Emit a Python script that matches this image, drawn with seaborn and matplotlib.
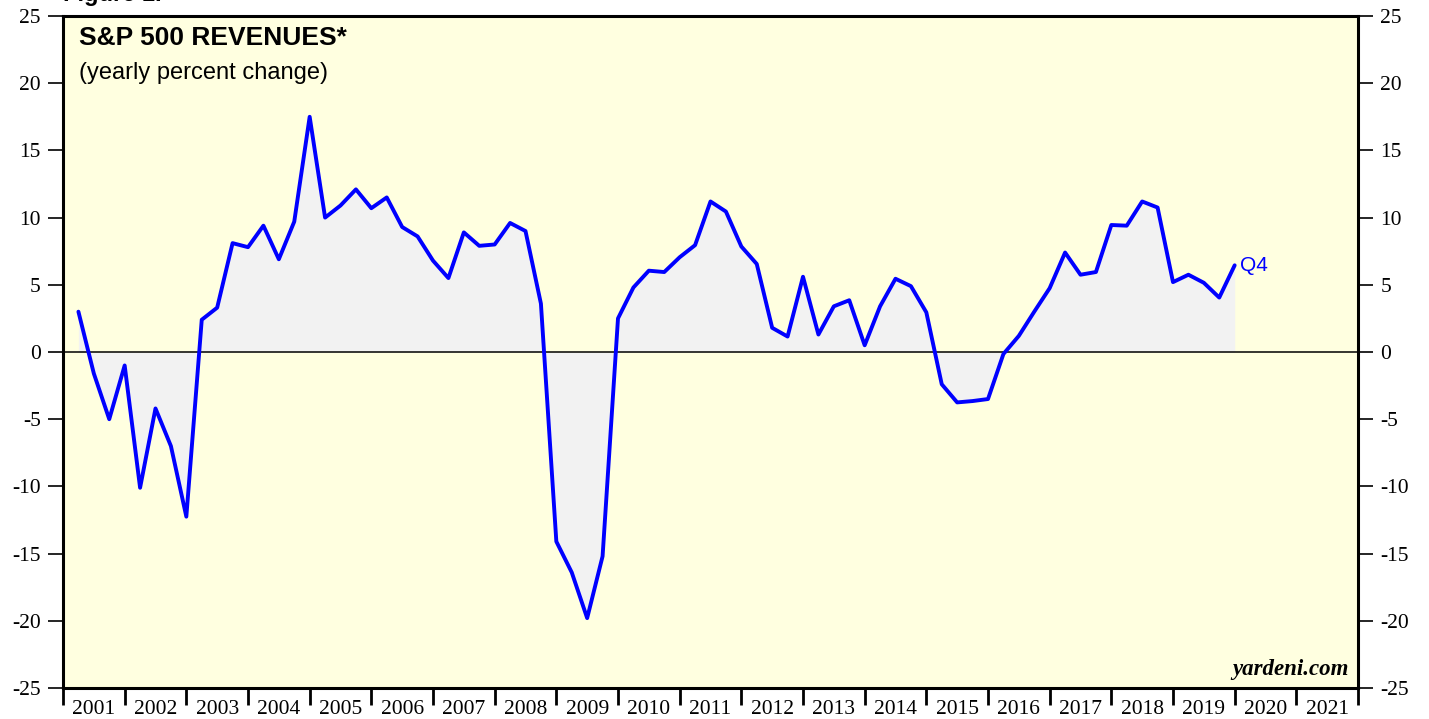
import numpy as np
import pandas as pd
import seaborn as sns
import matplotlib.pyplot as plt

# ==========================================
# DATOS: S&P 500 revenues, variación anual (%) trimestral 2001Q1-2019Q4
# ==========================================
quarters = pd.period_range('2001Q1', '2019Q4', freq='Q')
revenues_yoy = [3.0, -1.6, -5.0, -1.0, -10.1, -4.2, -7.0, -12.25,
                2.4, 3.3, 8.1, 7.8, 9.4, 6.9, 9.7, 17.5,
                10.0, 10.9, 12.1, 10.7, 11.5, 9.3, 8.6, 6.8,
                5.5, 8.9, 7.9, 8.0, 9.6, 9.0, 3.6, -14.1,
                -16.4, -19.8, -15.2, 2.5, 4.8, 6.05, 5.95, 7.05,
                7.95, 11.2, 10.45, 7.85, 6.55, 1.8, 1.15, 5.6,
                1.3, 3.4, 3.85, 0.5, 3.4, 5.45, 4.9, 2.95,
                -2.4, -3.75, -3.65, -3.5, -0.15, 1.2, 3.0, 4.75,
                7.4, 5.75, 5.95, 9.45, 9.4, 11.2, 10.75, 5.2,
                5.75, 5.15, 4.05, 6.45]
years = list(range(2001, 2022))
y_ticks = list(range(-25, 30, 5))

# cada trimestre se dibuja al final del trimestre
x_pos = np.array([q.year + q.quarter / 4 for q in quarters])
df = pd.DataFrame({'fecha': x_pos, 'valor': revenues_yoy})

# ==========================================
# ESTILO
# ==========================================
sns.set_theme(style="ticks")
plt.rcParams['font.family'] = ['Liberation Serif', 'DejaVu Serif']
plt.rcParams['text.color'] = 'black'
plt.rcParams['xtick.color'] = 'black'
plt.rcParams['ytick.color'] = 'black'

fig = plt.figure(figsize=(14.29, 7.19), dpi=100)
W, H = 1429, 719
ax = fig.add_axes([63 / W, (H - 688) / H, (1358 - 63) / W, (688 - 16) / H])
ax.set_facecolor('#FFFFE0')

# área sombreada + línea
ax.fill_between(df['fecha'], 0, df['valor'], color='#F2F2F2', lw=0, zorder=1)
ax.axhline(0, color='black', lw=1.1, zorder=2)
sns.lineplot(data=df, x='fecha', y='valor', ax=ax, color='#0000FF', lw=2.8, zorder=3)

# etiqueta del último dato
ax.text(df['fecha'].iloc[-1] + 0.09, df['valor'].iloc[-1], 'Q4', color='#0000FF',
        fontsize=15, family='Liberation Sans', va='center', ha='left')

# ==========================================
# EJES
# ==========================================
ax.set_xlim(years[0], years[-1] + 1)
ax.set_ylim(-25, 25)
ax.set_yticks(y_ticks)
ax.set_yticklabels([str(v) for v in y_ticks])
ax.tick_params(axis='y', which='both', left=True, right=True, labelleft=True, labelright=True,
               direction='out', length=11, width=1.2, labelsize=15.5, pad=5)

# años: marcas en los límites, etiquetas centradas entre ellas
ax.set_xticks(years + [years[-1] + 1])
ax.set_xticklabels([])
ax.set_xticks([y + 0.5 for y in years], minor=True)
ax.set_xticklabels([str(y) for y in years], minor=True)
ax.tick_params(axis='x', which='major', direction='out', length=12, width=2, bottom=True)
ax.tick_params(axis='x', which='minor', length=0, labelsize=15.5, pad=9)
ax.set_xlabel('')
ax.set_ylabel('')

for lado in ['left', 'right', 'top', 'bottom']:
    ax.spines[lado].set_visible(True)
    ax.spines[lado].set_color('black')
    ax.spines[lado].set_linewidth(2.2)

# ==========================================
# TEXTOS
# ==========================================
ax.text(0.012, 0.985, 'S&P 500 REVENUES*', transform=ax.transAxes, fontsize=19,
        fontweight='bold', family='Liberation Sans', va='top', ha='left')
ax.text(0.012, 0.932, '(yearly percent change)', transform=ax.transAxes, fontsize=17,
        family='Liberation Sans', va='top', ha='left')
ax.text(0.993, 0.012, 'yardeni.com', transform=ax.transAxes, fontsize=16.5,
        fontweight='bold', style='italic', va='bottom', ha='right')
fig.text(63 / W, 1 - 1 / H, 'Figure 1.', fontsize=17, fontweight='bold',
         family='Liberation Sans', va='baseline', ha='left')

fig.savefig('out.png', dpi=100)
